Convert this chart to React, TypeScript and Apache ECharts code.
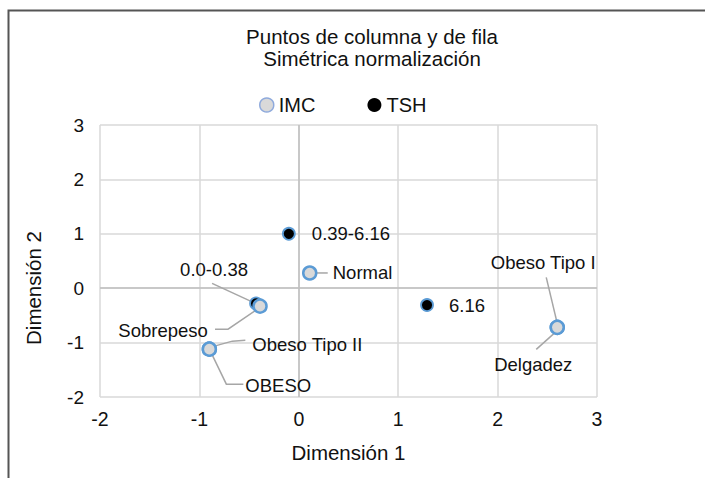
import React, { useEffect, useRef } from 'react';
import * as echarts from 'echarts';

// ---- data ----
const imcNames = ['Normal', 'Sobrepeso', 'Obeso Tipo II', 'OBESO', 'Obeso Tipo I', 'Delgadez'];
const imcX = [0.11, -0.39, -0.9, -0.9, 2.6, 2.6];
const imcY = [0.28, -0.33, -1.12, -1.12, -0.72, -0.72];

const tshNames = ['0.39-6.16', '0.0-0.38', '6.16'];
const tshX = [-0.1, -0.43, 1.29];
const tshY = [1.0, -0.28, -0.31];

const titleLines = ['Puntos de columna y de fila', 'Simétrica normalización'];
const xName = 'Dimensión 1';
const yName = 'Dimensión 2';

// ---- label placement (pixel offsets from the point; style only) ----
type LP = { dx: number; dy: number; align: string; line: number[][] | null };
const imcLabelPos: LP[] = [
  { dx: 23, dy: 0, align: 'left', line: [[7, 0], [18, 0]] },
  { dx: -97, dy: 24, align: 'center', line: [[-45, 23], [-32, 23], [-4, 4]] },
  { dx: 43, dy: -5, align: 'left', line: [[36, -9], [23, -8], [5, -3]] },
  { dx: 36, dy: 36, align: 'left', line: [[34, 35], [17, 35], [2, 4]] },
  { dx: -14, dy: -65, align: 'center', line: [[-11, -50], [0, -4]] },
  { dx: -24, dy: 37, align: 'center', line: [[-21, 22], [-2, 5]] },
];
const tshLabelPos: LP[] = [
  { dx: 23, dy: 0, align: 'left', line: null },
  { dx: -42, dy: -34, align: 'center', line: [[-44, -20], [-5, -2]] },
  { dx: 22, dy: 0, align: 'left', line: null },
];

const FONT = '"Liberation Sans", Arial, sans-serif';
const TXT = '#111111';

function layoutFor(pos: LP[]) {
  return (p: any) => {
    const lp = pos[p.dataIndex];
    const cx = p.rect.x + p.rect.width / 2;
    const cy = p.rect.y + p.rect.height / 2;
    return { x: cx + lp.dx, y: cy + lp.dy, align: lp.align, verticalAlign: 'middle' };
  };
}

export default function App() {
  const ref = useRef<HTMLDivElement>(null);
  useEffect(() => {
    if (!ref.current) return;
    const chart = echarts.init(ref.current, null, { renderer: 'svg' });
    const labelCommon = {
      show: true,
      formatter: '{b}',
      fontFamily: FONT,
      fontSize: 18.5,
      color: TXT,
    };
    const titleStyle = {
      fontFamily: FONT,
      fontSize: 20.5,
      fill: TXT,
      align: 'center',
      verticalAlign: 'middle',
    };
    const baseGraphic: any[] = [
      {
        type: 'polyline',
        shape: { points: [[8.5, 490], [8.5, 10.5], [710, 10.5]] },
        style: { stroke: '#555555', lineWidth: 2, fill: null },
      },
      { type: 'text', x: 372, y: 36, style: { ...titleStyle, text: titleLines[0] } },
      { type: 'text', x: 372, y: 58, style: { ...titleStyle, text: titleLines[1] } },
      {
        type: 'text',
        x: 33,
        y: 288,
        rotation: Math.PI / 2,
        style: { ...titleStyle, text: yName },
      },
    ];
    chart.setOption({
      animation: false,
      textStyle: { fontFamily: FONT },
      grid: { left: 100, right: 108, top: 125, bottom: 81 },
      legend: {
        left: 254,
        top: 90,
        itemWidth: 14,
        itemHeight: 14,
        itemGap: 52,
        icon: 'circle',
        textStyle: { fontFamily: FONT, fontSize: 20, color: TXT },
        data: [
          { name: 'IMC', itemStyle: { borderWidth: 1.5, borderColor: '#8faadc', opacity: 1 } },
          { name: 'TSH', itemStyle: { borderWidth: 0, color: '#000000', opacity: 1 } },
        ],
      },
      graphic: baseGraphic,
      xAxis: {
        type: 'value',
        min: -2,
        max: 3,
        interval: 1,
        name: xName,
        nameLocation: 'middle',
        nameGap: 45,
        nameTextStyle: { fontFamily: FONT, fontSize: 20.5, color: TXT },
        axisLine: { show: false },
        axisTick: { show: false },
        axisLabel: { fontFamily: FONT, fontSize: 19.5, color: TXT, margin: 12 },
        splitLine: { show: true, lineStyle: { color: '#d9d9d9', width: 1.5 } },
      },
      yAxis: {
        type: 'value',
        min: -2,
        max: 3,
        interval: 1,
        axisLine: { show: false },
        axisTick: { show: false },
        axisLabel: { fontFamily: FONT, fontSize: 19, color: TXT, margin: 16 },
        splitLine: { show: true, lineStyle: { color: '#d9d9d9', width: 1.5 } },
      },
      series: [
        {
          name: 'TSH',
          type: 'scatter',
          symbol: 'circle',
          symbolSize: 12,
          itemStyle: { color: '#000000', borderColor: '#5b9bd5', borderWidth: 1.8, opacity: 1 },
          label: labelCommon,
          labelLayout: layoutFor(tshLabelPos),
          data: tshNames.map((n, i) => ({ name: n, value: [tshX[i], tshY[i]] })),
          z: 3,
        },
        {
          name: 'IMC',
          type: 'scatter',
          symbol: 'circle',
          symbolSize: 13,
          itemStyle: { color: '#d9d9d9', borderColor: '#5b9bd5', borderWidth: 2.5, opacity: 1 },
          label: labelCommon,
          labelLayout: layoutFor(imcLabelPos),
          data: imcNames.map((n, i) => ({ name: n, value: [imcX[i], imcY[i]] })),
          markLine: {
            silent: true,
            symbol: 'none',
            label: { show: false },
            lineStyle: { color: '#bfbfbf', type: 'solid', width: 1.5, opacity: 1 },
            data: [{ xAxis: 0 }, { yAxis: 0 }],
            z: 1,
          },
          z: 4,
        },
      ],
    });

    // leader lines, anchored to each point's pixel position from the axes
    const leaders: any[] = [];
    const addLeaders = (xs: number[], ys: number[], pos: LP[]) => {
      xs.forEach((x, i) => {
        const lp = pos[i];
        if (!lp.line) return;
        const [px, py] = chart.convertToPixel({ gridIndex: 0 }, [x, ys[i]]) as number[];
        leaders.push({
          type: 'polyline',
          z: 2,
          shape: { points: lp.line.map(([a, b]) => [px + a, py + b]) },
          style: { stroke: '#a6a6a6', lineWidth: 1.5, fill: null },
        });
      });
    };
    addLeaders(tshX, tshY, tshLabelPos);
    addLeaders(imcX, imcY, imcLabelPos);
    chart.setOption({ graphic: [...baseGraphic, ...leaders] }, { replaceMerge: ['graphic'] });

    return () => chart.dispose();
  }, []);
  return (
    <div
      ref={ref}
      style={{ position: 'absolute', left: 0, top: 0, width: 705, height: 478, background: '#fff' }}
    />
  );
}
